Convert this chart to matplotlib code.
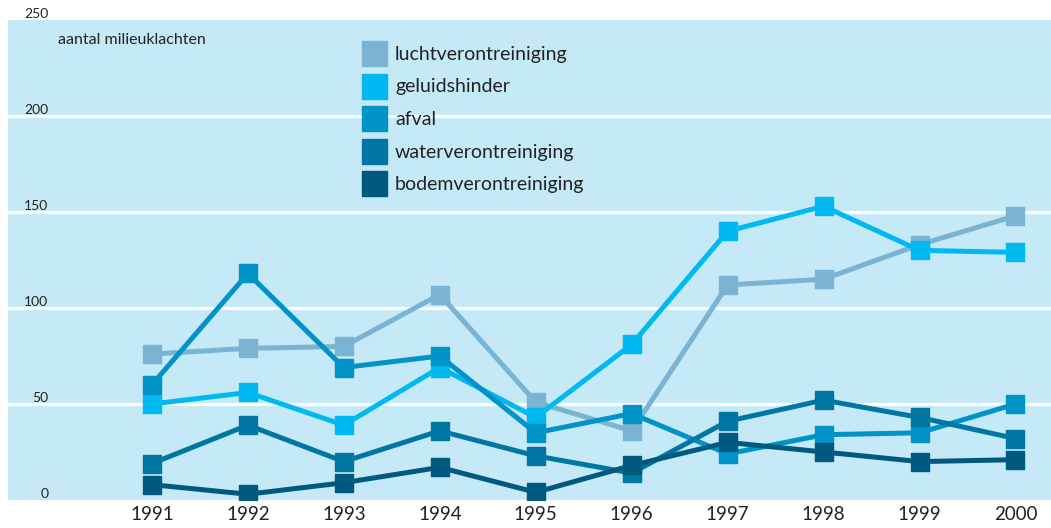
import matplotlib
matplotlib.use("Agg")
import matplotlib.pyplot as plt
from matplotlib.lines import Line2D

plt.rcParams['font.family'] = ['Lato', 'DejaVu Sans']

years = [1991, 1992, 1993, 1994, 1995, 1996, 1997, 1998, 1999, 2000]
series_names = ["luchtverontreiniging", "geluidshinder", "afval",
                "waterverontreiniging", "bodemverontreiniging"]
lucht = [76, 79, 80, 107, 51, 36, 112, 115, 133, 148]
geluid = [50, 56, 39, 69, 43, 81, 140, 153, 130, 129]
afval = [60, 118, 69, 75, 35, 45, 24, 34, 35, 50]
water = [19, 39, 20, 36, 23, 14, 41, 52, 43, 32]
bodem = [8, 3, 9, 17, 4, 18, 30, 25, 20, 21]
colors = ["#7ab4d2", "#00b9f0", "#0093c8", "#0077a3", "#005a80"]
y_ticks = [0, 50, 100, 150, 200, 250]
y_title = "aantal milieuklachten"

fig = plt.figure(figsize=(10.51, 5.28), dpi=100)
ax = fig.add_axes([8 / 1051, 28 / 528, 1 - 8 / 1051, 480 / 528])
ax.set_facecolor("#c6e9f8")
ax.set_xlim(1989.5, 2000.37)
ax.set_ylim(0, 250)

for v in y_ticks[1:-1]:
    ax.axhline(v, color="white", lw=2.2, zorder=1)

all_series = [lucht, geluid, afval, water, bodem]
for vals, c in zip(all_series, colors):
    ax.plot(years, vals, color=c, lw=3.6, marker="s", markersize=12.5,
            solid_joinstyle="miter", zorder=3)

for s in ax.spines.values():
    s.set_visible(False)
ax.set_yticks([])
ax.set_xticks(years)
ax.set_xticklabels([str(y) for y in years], fontsize=13.5, color="#222222")
ax.tick_params(axis="x", length=0, pad=4)

for v in y_ticks:
    ax.text(1989.92, v + 1.0, str(v), ha="right", va="baseline",
            fontsize=10, color="#222222", clip_on=False)

ax.text(1990.02, 239.5, y_title, ha="left", va="center", fontsize=11.5,
        color="#222222")

handles = [Line2D([], [], color=c, marker="s", linestyle="none",
                  markersize=18) for c in colors]
leg = ax.legend(handles, series_names, loc="upper left",
                bbox_to_anchor=(355 / 1043, 0.946), frameon=False,
                fontsize=14, handlelength=1.1, handletextpad=0.55,
                labelspacing=0.8, borderaxespad=0, borderpad=0,
                labelcolor="#222222")

fig.savefig("out.png", dpi=100)
